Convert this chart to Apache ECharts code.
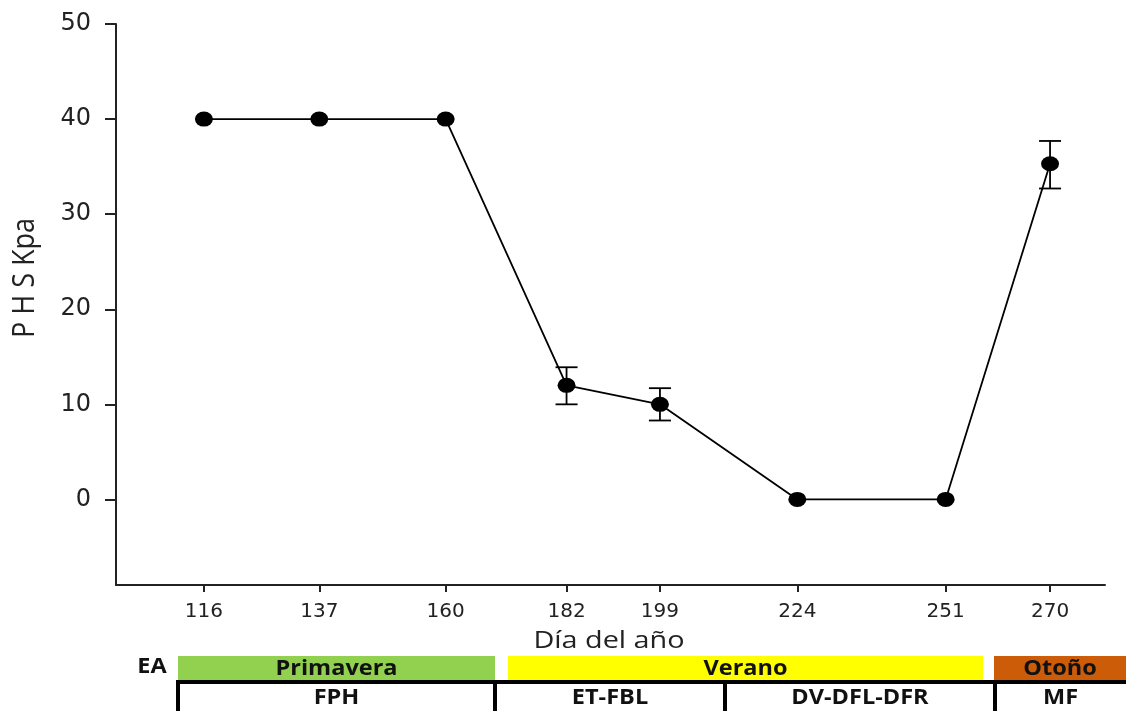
<!DOCTYPE html>
<html><head><meta charset="utf-8">
<script src="https://cdn.jsdelivr.net/npm/echarts@6/dist/echarts.min.js"></script>
<style>html,body{margin:0;padding:0;background:#fff}#c{width:1126px;height:711px}</style>
</head><body><div id="c"></div>
<script>
const days = [116, 137, 160, 182, 199, 224, 251, 270];
const phs = [40, 40, 40, 12, 10, 0, 0, 35.3];
const errLow = [null, null, null, 10, 8.3, null, null, 32.7];
const errHigh = [null, null, null, 13.9, 11.7, null, null, 37.7];
const yTicks = [0, 10, 20, 30, 40, 50];
const xTitle = 'Día del año';
const yTitle = 'P H S Kpa';
const seasons = ['Primavera', 'Verano', 'Otoño'];
const seasonColors = ['#92d050', '#ffff00', '#cc5c08'];
const stages = ['FPH', 'ET-FBL', 'DV-DFL-DFR', 'MF'];

const seasonLayout = [[178, 495], [508, 983], [994, 1126]];
const stageLayout = [[178, 495], [495, 725], [725, 995], [995, 1126]];

const chart = echarts.init(document.getElementById('c'));
const pts = days.map((d, i) => [d, phs[i]]);
const errData = days.map((d, i) => [d, errLow[i], errHigh[i]]).filter(r => r[1] !== null);

const bandFont = 'bold 21px "Open Sans"';
const graphic = [];
graphic.push({type: 'text', x: 609, y: 641, scaleX: 1.2, style: {text: xTitle, font: '24px "Open Sans"', fill: '#222', align: 'center', verticalAlign: 'middle'}});
graphic.push({type: 'text', x: 25, y: 278, rotation: Math.PI / 2, scaleY: 1.12, style: {text: yTitle, font: '27px "Open Sans"', fill: '#222', align: 'center', verticalAlign: 'middle'}});
graphic.push({type: 'text', x: 152, y: 667, scaleX: 1.12, style: {text: 'EA', font: bandFont, fill: '#111', align: 'center', verticalAlign: 'middle'}});
seasons.forEach((s, i) => {
  const [x0, x1] = seasonLayout[i];
  graphic.push({type: 'rect', shape: {x: x0, y: 656, width: x1 - x0, height: 24}, style: {fill: seasonColors[i]}});
  graphic.push({type: 'text', x: (x0 + x1) / 2, y: 669, scaleX: 1.12, style: {text: s, font: bandFont, fill: '#111', align: 'center', verticalAlign: 'middle'}});
});
graphic.push({type: 'line', shape: {x1: 176, y1: 682, x2: 1126, y2: 682}, style: {stroke: '#000', lineWidth: 4}});
stageLayout.forEach((s, i) => {
  const [x0, x1] = s;
  graphic.push({type: 'line', shape: {x1: x0, y1: 680, x2: x0, y2: 711}, style: {stroke: '#000', lineWidth: 4}});
  graphic.push({type: 'text', x: (x0 + x1) / 2, y: 698, scaleX: 1.12, style: {text: stages[i], font: bandFont, fill: '#111', align: 'center', verticalAlign: 'middle'}});
});

chart.setOption({
  animation: false,
  backgroundColor: '#fff',
  grid: {left: 116, right: 21, top: 24, bottom: 126, containLabel: false},
  xAxis: {
    type: 'value', min: 100, max: 280,
    axisLine: {show: true, onZero: false, lineStyle: {color: '#222', width: 2}},
    axisTick: {show: true, length: 7, lineStyle: {color: '#222', width: 2}, customValues: days},
    axisLabel: {customValues: days, fontFamily: 'DejaVu Sans', fontSize: 20, color: '#222', margin: 17},
    splitLine: {show: false}
  },
  yAxis: {
    type: 'value', min: -9, max: 50,
    axisLine: {show: true, onZero: false, lineStyle: {color: '#222', width: 2}},
    axisTick: {show: true, inside: false, length: 11, lineStyle: {color: '#222', width: 2}, customValues: yTicks},
    axisLabel: {customValues: yTicks, fontFamily: 'DejaVu Sans', fontSize: 24, color: '#222', margin: 25},
    splitLine: {show: false}
  },
  series: [
    {
      type: 'line', data: pts, symbol: 'circle', symbolSize: [18, 15],
      lineStyle: {color: '#000', width: 1.8}, itemStyle: {color: '#000'}, z: 3
    },
    {
      type: 'custom', data: errData, z: 2,
      renderItem: function (params, api) {
        const x = api.value(0);
        const lo = api.coord([x, api.value(1)]);
        const hi = api.coord([x, api.value(2)]);
        const w = 11;
        const st = {stroke: '#000', lineWidth: 1.8};
        return {type: 'group', children: [
          {type: 'line', shape: {x1: lo[0], y1: lo[1], x2: hi[0], y2: hi[1]}, style: st},
          {type: 'line', shape: {x1: lo[0] - w, y1: lo[1], x2: lo[0] + w, y2: lo[1]}, style: st},
          {type: 'line', shape: {x1: hi[0] - w, y1: hi[1], x2: hi[0] + w, y2: hi[1]}, style: st}
        ]};
      }
    }
  ],
  graphic: graphic
});
</script>
</body></html>
